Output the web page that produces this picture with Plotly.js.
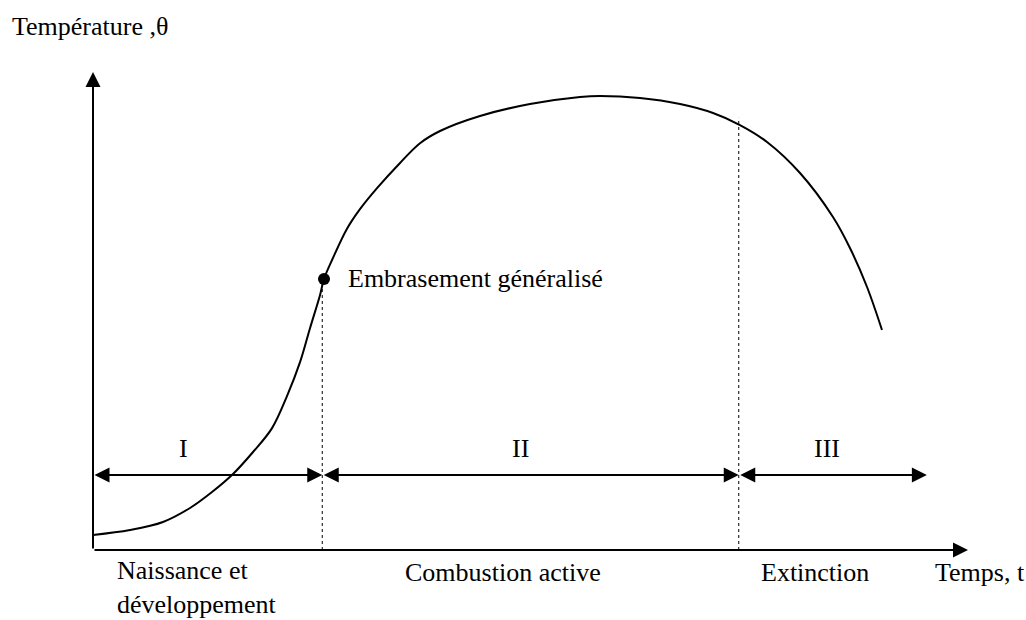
<!DOCTYPE html>
<html>
<head>
<meta charset="utf-8">
<script src="https://cdn.plot.ly/plotly-3.0.1.min.js"></script>
<style>html,body{margin:0;padding:0;background:#fff;}#chart{width:1026px;height:620px;}</style>
</head>
<body>
<div id="chart"></div>
<script>
// Fire temperature curve (arbitrary units: time 0-100, temperature 0-100)
var timeVals = [0, 4.23, 8.0, 11.09, 13.6, 16.0, 18.29, 20.46, 22.17, 23.66, 24.8, 25.94, 26.4, 27.43, 29.03, 30.51, 32.46, 35.09, 37.37, 39.66, 44.23, 49.94, 55.66, 57.94, 62.51, 67.09, 70.86, 73.94, 77.03, 80.8, 84.57, 86.51, 88.46, 90.17];
var tempVals = [3.14, 4.18, 5.86, 8.79, 12.13, 15.9, 20.5, 25.5, 32.2, 39.3, 46.4, 53.3, 56.7, 61.1, 67.2, 71.3, 75.7, 80.97, 85.1, 87.66, 90.8, 93.3, 94.77, 94.98, 94.56, 93.3, 91.42, 88.9, 85.36, 78.87, 69.67, 63.18, 55.02, 46.03];

// Flashover point
var flashoverTime = 26.4;
var flashoverTemp = 56.7;
var flashoverLabel = 'Embrasement généralisé';

// Phases
var phaseBounds = [0, 26.2, 73.8, 95.3];
var phaseBoundTops = [56.7, 90.4];
var phaseArrowLevel = 15.7;
var phaseLabels = ['I', 'II', 'III'];
var phaseLabelTimes = [10.3, 48.8, 83.9];
var phaseLabelLevel = 21.3;
var phaseNames = ['Naissance et<br>développement', 'Combustion active', 'Extinction'];
var phaseNameTimes = [2.5, 46.9, 82.5];
var phaseNameAnchors = ['left', 'center', 'center'];
var phaseNameLevels = [-7.9, -4.8, -4.8];

var axisTitleX = 'Temps, t';
var axisTitleXPos = [96, -4.8];
var axisTitleY = 'Température ,θ';
var axisTitleYPos = [-9.5, 109.5];

var FONT = {family: 'Liberation Serif, Times New Roman, serif', size: 26, color: '#000'};

var traces = [
  {x: timeVals, y: tempVals, mode: 'lines', type: 'scatter',
   line: {color: '#000', width: 2, shape: 'spline', smoothing: 1}, hoverinfo: 'skip', cliponaxis: false},
  {x: [flashoverTime], y: [flashoverTemp], mode: 'markers', type: 'scatter',
   marker: {color: '#000', size: 12}, hoverinfo: 'skip', cliponaxis: false}
];

// data units (0-100) -> paper fraction for texts placed outside the axis ranges
function toPaper(v) { return v / 100; }

var annotations = [];
var arrowBase = {text: '', showarrow: true, arrowhead: 2, arrowwidth: 2, arrowsize: 1.5,
  arrowcolor: '#000', xref: 'x', yref: 'y', axref: 'x', ayref: 'y', standoff: 0, startstandoff: 0,
  font: {size: 1}};

// Axes with arrowheads
annotations.push(Object.assign({}, arrowBase, {x: 100, y: 0, ax: 0, ay: 0}));
annotations.push(Object.assign({}, arrowBase, {x: 0, y: 100, ax: 0, ay: 0}));

// Phase double arrows
for (var i = 0; i < phaseLabels.length; i++) {
  annotations.push(Object.assign({}, arrowBase, {
    x: phaseBounds[i + 1], y: phaseArrowLevel, ax: phaseBounds[i], ay: phaseArrowLevel,
    arrowside: 'end+start', startarrowhead: 2, startarrowsize: 1.5
  }));
  annotations.push({text: phaseLabels[i], x: phaseLabelTimes[i], y: phaseLabelLevel,
    xref: 'x', yref: 'y', showarrow: false, font: FONT, xanchor: 'center', yanchor: 'middle'});
  annotations.push({text: phaseNames[i], x: toPaper(phaseNameTimes[i]), y: toPaper(phaseNameLevels[i]),
    xref: 'paper', yref: 'paper', showarrow: false, font: FONT, xanchor: phaseNameAnchors[i],
    yanchor: 'middle', align: 'left'});
}

annotations.push({text: flashoverLabel, x: flashoverTime, y: flashoverTemp, xref: 'x', yref: 'y',
  showarrow: false, xanchor: 'left', yanchor: 'middle', xshift: 22, font: FONT});
annotations.push({text: axisTitleX, x: toPaper(axisTitleXPos[0]), y: toPaper(axisTitleXPos[1]),
  xref: 'paper', yref: 'paper', showarrow: false, xanchor: 'left', yanchor: 'middle', font: FONT});
annotations.push({text: axisTitleY, x: toPaper(axisTitleYPos[0]), y: toPaper(axisTitleYPos[1]),
  xref: 'paper', yref: 'paper', showarrow: false, xanchor: 'left', yanchor: 'middle', font: FONT});

var shapes = [];
for (var j = 1; j <= 2; j++) {
  shapes.push({type: 'line', xref: 'x', yref: 'y', x0: phaseBounds[j], x1: phaseBounds[j],
    y0: 0, y1: phaseBoundTops[j - 1], line: {color: '#000', width: 1, dash: 'dot'}});
}

var hidden = {range: [0, 100], visible: false, showgrid: false, zeroline: false, fixedrange: true};

var layout = {
  width: 1026, height: 620,
  margin: {l: 93, r: 58, t: 72, b: 70},
  paper_bgcolor: '#fff', plot_bgcolor: '#fff',
  showlegend: false,
  xaxis: Object.assign({}, hidden),
  yaxis: Object.assign({}, hidden),
  annotations: annotations,
  shapes: shapes,
  font: FONT
};

Plotly.newPlot('chart', traces, layout, {staticPlot: true, displayModeBar: false});
</script>
</body>
</html>
